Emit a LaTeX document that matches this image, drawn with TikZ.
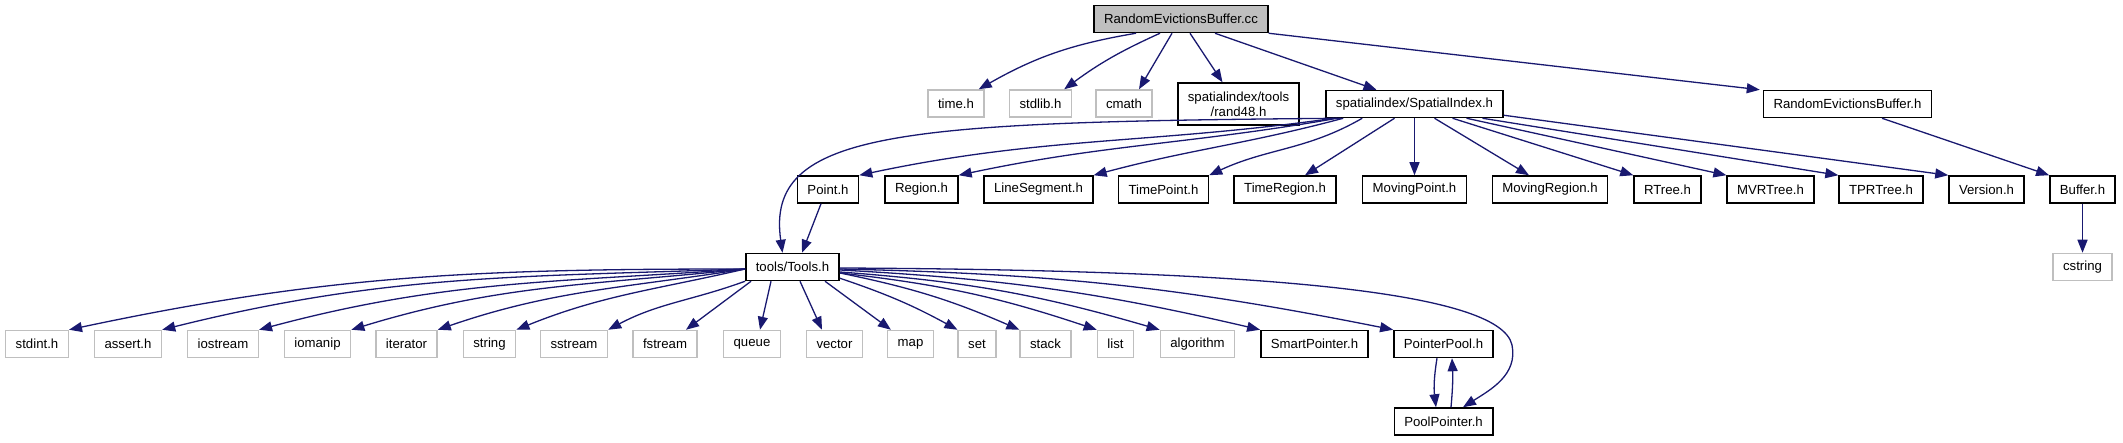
\documentclass[tikz,border=0pt]{standalone}
\usepackage{fontspec}
\setmainfont{Liberation Sans}
\usetikzlibrary{arrows.meta}
\definecolor{edgeblue}{HTML}{191970}
\definecolor{sysgray}{HTML}{BFBFBF}

\begin{document}
\begin{tikzpicture}[x=1pt,y=-1pt,
        font=\fontsize{13.2}{15}\selectfont,
        every node/.style={inner xsep=10pt,inner ysep=0pt,minimum height=27pt},
        hfile/.style={draw=black,line width=1.5pt},
        sysfile/.style={draw=sysgray,line width=1.5pt},
        rootfile/.style={draw=black,fill=sysgray,line width=1.5pt},
        incl/.style={draw=edgeblue,line width=1.3pt,-{Triangle[length=13pt,width=10pt]}}]
        \useasboundingbox (0,0) rectangle (2123,443);
        \node[rootfile] (root) at (1181,19) {RandomEvictionsBuffer.cc};
        \node[sysfile] (time) at (956,103.5) {time.h};
        \node[sysfile] (stdlib) at (1040.5,103.5) {stdlib.h};
        \node[sysfile] (cmath) at (1124,103.5) {cmath};
        \node[hfile,align=center,minimum height=42pt] (rand48) at (1238.5,104) {spatialindex/tools\\/rand48.h};
        \node[hfile] (spatial) at (1414.5,104) {spatialindex/SpatialIndex.h};
        \node[hfile] (buffercls) at (1847.5,104) {RandomEvictionsBuffer.h};
        \foreach \nm/\x/\txt in {point/828/Point.h,region/921.5/Region.h,lineseg/1038.5/LineSegment.h,
            timepoint/1163.5/TimePoint.h,timeregion/1285/TimeRegion.h,movingpoint/1414.5/MovingPoint.h,
            movingregion/1550/MovingRegion.h,rtree/1667.5/RTree.h,mvrtree/1770.5/MVRTree.h,
            tprtree/1881/TPRTree.h,version/1986.5/Version.h,buffer/2082.5/Buffer.h}
          {\node[hfile] (\nm) at (\x,189.5) {\txt};}
        \node[hfile] (tools) at (792.5,267) {tools/Tools.h};
        \node[sysfile] (cstring) at (2082.5,267) {cstring};
        \foreach \nm/\x/\txt in {stdint/37/stdint.h,assert/128/assert.h,iostream/223/iostream,
            iomanip/317.5/iomanip,iterator/406.5/iterator,string/489.5/string,sstream/574/sstream,
            fstream/665/fstream,queue/752/queue,vector/834.5/vector,map/910.5/map,set/977/set,
            stack/1045.5/stack,list/1115.5/list,algorithm/1197.5/algorithm}
          {\node[sysfile] (\nm) at (\x,344) {\txt};}
        \node[hfile] (smartptr) at (1314.5,344) {SmartPointer.h};
        \node[hfile] (ptrpool) at (1443.5,344) {PointerPool.h};
        \node[hfile] (poolptr) at (1443.5,421.5) {PoolPointer.h};

        \draw[incl] ([xshift=-45pt]root.south) to[bend right=10] ([xshift=-6pt]time.north east);
        \draw[incl] ([xshift=-21pt]root.south) to[bend right=6] ([xshift=-8pt]stdlib.north east);
        \draw[incl] ([xshift=-9pt]root.south) -- ([xshift=15pt]cmath.north);
        \draw[incl] ([xshift=9pt]root.south) -- ([xshift=-16pt]rand48.north);
        \draw[incl] ([xshift=34pt]root.south) -- ([xshift=-38pt]spatial.north);
        \draw[incl] (root.south east) -- ([xshift=-3pt]buffercls.north west);

        \draw[incl] ([xshift=16pt]spatial.south west) .. controls (900,122) and (765,130) .. ([xshift=-10pt]tools.north);
        \draw[incl] ([xshift=9pt]spatial.south west) to[out=188,in=12] (point.north east);
        \draw[incl] ([xshift=12pt]spatial.south west) to[out=190,in=12] (region.north east);
        \draw[incl] ([xshift=18pt]spatial.south west) to[out=195,in=15] (lineseg.north east);
        \draw[incl] ([xshift=37pt]spatial.south west) to[out=210,in=25] (timepoint.north east);
        \draw[incl] ([xshift=-20pt]spatial.south) -- ([xshift=20pt]timeregion.north);
        \draw[incl] (spatial) -- (movingpoint);
        \draw[incl] ([xshift=20pt]spatial.south) -- ([xshift=-21pt]movingregion.north);
        \draw[incl] ([xshift=38pt]spatial.south) -- (rtree.north west);
        \draw[incl] ([xshift=52pt]spatial.south) -- (mvrtree.north west);
        \draw[incl] ([xshift=68pt]spatial.south) -- (tprtree.north west);
        \draw[incl] ([yshift=3pt]spatial.south east) -- (version.north west);

        \draw[incl] ([xshift=34.5pt]buffercls.south) -- (buffer.north west);
        \draw[incl] (buffer) -- (cstring);
        \draw[incl] ([xshift=-7pt]point.south) -- ([xshift=9.5pt]tools.north);

        \foreach \nm/\o/\i in {stdint/180/12,assert/182/14,iostream/184/15,iomanip/186/17,iterator/189/19,string/193/22}
          {\draw[incl] ([yshift=-2pt]tools.west) to[out=\o,in=\i] (\nm.north east);}
        \draw[incl] (tools.south west) to[out=200,in=28] (sstream.north east);
        \draw[incl] ([xshift=6pt]tools.south west) -- ([xshift=21pt]fstream.north);
        \draw[incl] ([xshift=-21.5pt]tools.south) -- ([xshift=8pt]queue.north);
        \draw[incl] ([xshift=7.5pt]tools.south) -- ([xshift=-12.5pt]vector.north);
        \draw[incl] ([xshift=32.5pt]tools.south) -- ([xshift=4pt]map.north west);
        \draw[incl] ([yshift=3pt]tools.south east) to[bend left=5] (set.north west);
        \foreach \nm/\dy/\b in {stack/-6/6,list/-6/6,algorithm/-5/6,smartptr/-3/5,ptrpool/-2/5}
          {\draw[incl] ([yshift=\dy pt]tools.east) to[bend left=\b] (\nm.north west);}
        \draw[incl] ([yshift=-1pt]tools.east) .. controls (1250,270) and (1500,290) .. (1512,345)
          .. controls (1518,375) and (1490,390) .. ([xshift=19.5pt]poolptr.north);
        \draw[incl] ([xshift=-6.5pt]ptrpool.south) to[bend right=8] ([xshift=-7.5pt]poolptr.north);
        \draw[incl] ([xshift=7.5pt]poolptr.north) to[bend right=4] ([xshift=8.5pt]ptrpool.south);
      \end{tikzpicture}
\end{document}
